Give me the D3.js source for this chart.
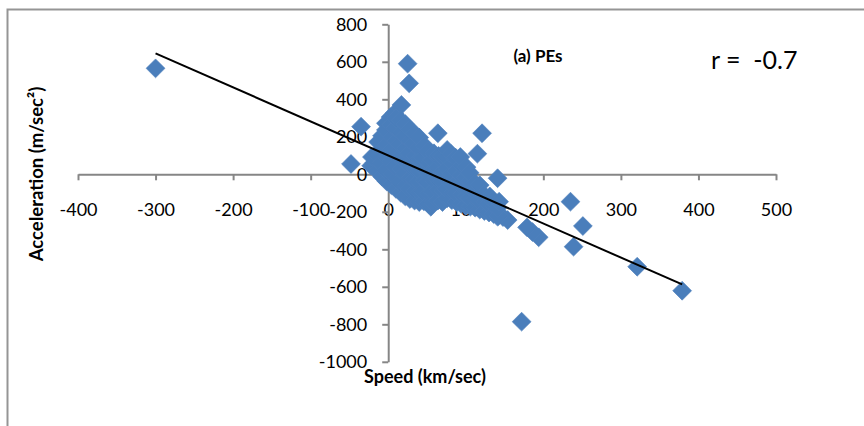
<!DOCTYPE html>
<html>
<head>
<meta charset="utf-8">
<script src="https://cdn.jsdelivr.net/npm/d3@7"></script>
<style>
  html, body { margin: 0; padding: 0; background: #fff; }
  svg { display: block; }
  text { font-family: Lato, "Open Sans", sans-serif; fill: #000; }
</style>
</head>
<body>
<svg id="chart" width="864" height="426"></svg>
<script>
// Speed (km/sec) and acceleration (m/sec^2) of each event
const speed = [
  -300, 25, 27, 17, 8, 3, -3, -35, -48, -18, 64, 121, 115, 141, 235, 251, 239, 321, 379, 172, 194, 186, 179, 154, 148, 141, 55,
  -22, -21,
  -14, -15, -13,
  -8, -9, -7, -8,
  -2, -3, -1, -2, -3,
  4, 5, 3, 4, 5, 4,
  10, 11, 9, 10, 11, 9, 10,
  16, 15, 17, 16, 15, 17, 16,
  22, 23, 21, 22, 23, 21, 22,
  28, 27, 29, 28, 27, 29, 28,
  34, 35, 33, 34, 35, 33, 34,
  40, 41, 39, 40, 41, 39, 40,
  46, 45, 47, 46, 45, 47,
  52, 53, 51, 52, 53, 51,
  58, 57, 59, 58, 57, 59,
  64, 65, 63, 64, 65,
  70, 71, 69, 70, 71, 69,
  76, 75, 77, 76, 75, 76,
  82, 83, 81, 82, 83, 81,
  88, 87, 89, 88, 87,
  94, 95, 93, 94, 95, 93,
  100, 101, 99, 100, 101,
  106, 105, 107, 106, 105,
  112, 113, 111, 112,
  118, 117, 119, 118,
  124, 125, 123,
  130, 129, 131,
  136, 137, 135,
  142, 141, 143
];
const accel = [
  565, 590, 485, 370, 325, 305, 272, 254, 55, 60, 219, 219, 110, -21, -146, -276, -386, -493, -621, -786, -336, -308, -283, -244, -228, -226, -173,
  45, 92,
  18, 108, 172,
  -12, 58, 138, 205,
  -38, 22, 88, 158, 236,
  -58, 2, 68, 128, 198, 262,
  -78, -22, 42, 108, 178, 246, 298,
  -98, -42, 28, 92, 158, 222, 288,
  -118, -58, 4, 68, 138, 202, 268,
  -132, -78, -18, 48, 112, 178, 238,
  -140, -88, -28, 32, 98, 162, 218,
  -148, -98, -38, 18, 82, 142, 196,
  -144, -92, -32, 28, 88, 152,
  -158, -102, -42, 8, 62, 122,
  -150, -92, -32, 22, 78, 112,
  -140, -82, -22, 38, 98,
  -148, -88, -38, 12, 68, 96,
  -128, -78, -28, 32, 94, 130,
  -138, -98, -48, 2, 58, 108,
  -148, -102, -42, 18, 88,
  -158, -108, -58, -8, 48, 92,
  -168, -118, -68, -18, 38,
  -172, -128, -78, -38, 8,
  -178, -132, -88, -48,
  -188, -138, -98, -58,
  -196, -148, -108,
  -204, -158, -118,
  -212, -168, -138,
  -222, -178, -146
];

// Linear fit: accel = intercept + slope * speed
const trendSlope = -1.815;
const trendIntercept = 100.5;

const xTicks = [-400, -300, -200, -100, 0, 100, 200, 300, 400, 500];
const yTicks = [-1000, -800, -600, -400, -200, 0, 200, 400, 600, 800];

const svg = d3.select("#chart");

// Chart frame (only the left and top edges fall inside the page)
svg.append("path")
  .attr("d", "M7.5,426 V9.5 H864")
  .attr("fill", "none")
  .attr("stroke", "#959595")
  .attr("stroke-width", 2);

const x = d3.scaleLinear().domain([-400, 500]).range([78, 776]);
const y = d3.scaleLinear().domain([-1000, 800]).range([361.8, 24.3]);

const axisColor = "#868686";
const tickFont = 18;
const plain = d => String(d);

// Horizontal axis crosses at accel = 0
const gx = svg.append("g")
  .attr("transform", `translate(0,${y(0)})`)
  .call(d3.axisBottom(x).tickValues(xTicks).tickFormat(plain).tickSize(6).tickSizeOuter(0).tickPadding(23));
gx.select(".domain").attr("stroke", axisColor).attr("stroke-width", 2);
gx.selectAll(".tick line").attr("stroke", axisColor).attr("stroke-width", 2);
gx.selectAll(".tick text")
  .attr("font-size", tickFont)
  .attr("font-family", "Lato, sans-serif")
  .attr("fill", "#000");

// Vertical axis crosses at speed = 0
const gy = svg.append("g")
  .attr("transform", `translate(${x(0)},0)`)
  .call(d3.axisLeft(y).tickValues(yTicks).tickFormat(plain).tickSize(6).tickSizeOuter(0).tickPadding(15));
gy.select(".domain").attr("stroke", axisColor).attr("stroke-width", 2);
gy.selectAll(".tick line").attr("stroke", axisColor).attr("stroke-width", 2);
gy.selectAll(".tick text")
  .attr("font-size", tickFont)
  .attr("font-family", "Lato, sans-serif")
  .attr("fill", "#000");

// Diamond markers
const diamond = d3.symbol().type(d3.symbolSquare).size(178)();
svg.append("g")
  .selectAll("path")
  .data(d3.range(speed.length))
  .join("path")
  .attr("d", diamond)
  .attr("transform", i => `translate(${x(speed[i])},${y(accel[i])}) rotate(45)`)
  .attr("fill", "#4A7EBB")
  .attr("stroke", "#4F81BD")
  .attr("stroke-width", 0.6);

// Trend line across the range of speeds
const [sMin, sMax] = d3.extent(speed);
svg.append("line")
  .attr("x1", x(sMin)).attr("y1", y(trendIntercept + trendSlope * sMin))
  .attr("x2", x(sMax)).attr("y2", y(trendIntercept + trendSlope * sMax))
  .attr("stroke", "#000")
  .attr("stroke-width", 2);

// Axis titles
svg.append("text")
  .attr("transform", "translate(43,174) rotate(-90)")
  .attr("text-anchor", "middle")
  .attr("font-size", 18.5)
  .attr("font-weight", "bold")
  .text("Acceleration (m/sec²)");

svg.append("text")
  .attr("x", 425).attr("y", 383)
  .attr("text-anchor", "middle")
  .attr("font-size", 18)
  .attr("font-weight", "bold")
  .text("Speed (km/sec)");

// Panel label and correlation coefficient
svg.append("text")
  .attr("x", 538).attr("y", 62)
  .attr("text-anchor", "middle")
  .attr("font-size", 17)
  .attr("font-weight", "bold")
  .text("(a) PEs");

svg.append("text")
  .attr("x", 711).attr("y", 69)
  .attr("font-size", 25)
  .style("white-space", "pre")
  .text("r =  -0.7");
</script>
</body>
</html>
